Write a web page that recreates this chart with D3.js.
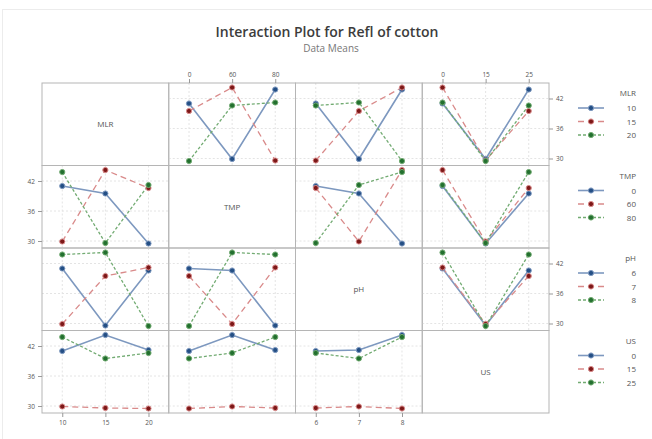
<!DOCTYPE html>
<html>
<head>
<meta charset="utf-8">
<script src="https://cdn.jsdelivr.net/npm/d3@7"></script>
<style>
  body { margin: 0; background: #fff; }
  text { font-family: "Open Sans", "Noto Sans", sans-serif; }
</style>
</head>
<body>
<svg id="chart" width="652" height="439"></svg>
<script>
// factors and their levels (order = panel order)
let factors = ["MLR", "TMP", "pH", "US"];
let levels = {
  MLR: ["10", "15", "20"],
  TMP: ["0", "60", "80"],
  pH: ["6", "7", "8"],
  US: ["0", "15", "25"]
};
let yTicks = [30, 36, 42];

// data means: rows = level of the line factor, cols = level of the x factor
let mlrByTmp = [[41.0, 29.9, 43.8], [39.5, 44.2, 29.6], [29.5, 40.6, 41.2]];
let mlrByPh  = [[41.0, 29.9, 43.8], [29.6, 39.5, 44.2], [40.6, 41.2, 29.5]];
let mlrByUs  = [[41.0, 29.9, 43.8], [44.2, 29.6, 39.5], [41.2, 29.5, 40.6]];
let tmpByMlr = [[41.0, 39.5, 29.5], [29.9, 44.2, 40.6], [43.8, 29.6, 41.2]];
let tmpByPh  = [[41.0, 39.5, 29.5], [40.6, 29.9, 44.2], [29.6, 41.2, 43.8]];
let tmpByUs  = [[41.0, 29.5, 39.5], [44.2, 29.9, 40.6], [41.2, 29.6, 43.8]];
let phByMlr  = [[41.0, 29.6, 40.6], [29.9, 39.5, 41.2], [43.8, 44.2, 29.5]];
let phByTmp  = [[41.0, 40.6, 29.6], [39.5, 29.9, 41.2], [29.5, 44.2, 43.8]];
let phByUs   = [[41.0, 29.6, 40.6], [41.2, 29.9, 39.5], [44.2, 29.5, 43.8]];
let usByMlr  = [[41.0, 44.2, 41.2], [29.9, 29.6, 29.5], [43.8, 39.5, 40.6]];
let usByTmp  = [[41.0, 44.2, 41.2], [29.5, 29.9, 29.6], [39.5, 40.6, 43.8]];
let usByPh   = [[41.0, 41.2, 44.2], [29.6, 29.9, 29.5], [40.6, 39.5, 43.8]];

let panels = [
  [null, mlrByTmp, mlrByPh, mlrByUs],
  [tmpByMlr, null, tmpByPh, tmpByUs],
  [phByMlr, phByTmp, null, phByUs],
  [usByMlr, usByTmp, usByPh, null]
];

let svg = d3.select("#chart");

let lineColors = ["#7d98bf", "#d98a8a", "#72ab72"];
let markColors = ["#244f85", "#7d1818", "#23702f"];
let dashes = [null, "6,4", "3,2"];
let textColor = "#555";

let gridLeft = 42, gridRight = 549, gridTop = 83, gridBottom = 413;
let panelW = (gridRight - gridLeft) / 4;
let panelH = (gridBottom - gridTop) / 4;

let y = d3.scaleLinear().domain([28.6, 45.1]).range([panelH, 0]);

// faint frame round the whole graph
svg.append("rect")
  .attr("x", 2.5).attr("y", 9.5)
  .attr("width", 660).attr("height", 440)
  .style("fill", "none")
  .style("stroke", "#ececec");

svg.append("text")
  .attr("x", 327).attr("y", 37)
  .text("Interaction Plot for Refl of cotton")
  .style("text-anchor", "middle")
  .style("font-size", 14)
  .style("font-weight", 600)
  .style("fill", "#3c3c3c");
svg.append("text")
  .attr("x", 331).attr("y", 52)
  .text("Data Means")
  .style("text-anchor", "middle")
  .style("font-size", 10)
  .style("fill", "#777");

for (let r = 0; r < 4; r++) {
  for (let c = 0; c < 4; c++) {
    let g = svg.append("g")
      .attr("transform", "translate(" + (gridLeft + c * panelW) + "," + (gridTop + r * panelH) + ")");
    let x = d3.scalePoint().domain(levels[factors[c]]).range([0, panelW]).padding(0.47);

    if (r == c) {
      g.append("text")
        .attr("x", panelW / 2).attr("y", panelH / 2 + 3)
        .text(factors[r])
        .style("text-anchor", "middle")
        .style("font-size", 8)
        .style("fill", "#555");
    } else {
      // grid
      g.selectAll(".vgrid")
        .data(x.domain())
        .enter().append("line")
        .attr("x1", (d) => x(d)).attr("x2", (d) => x(d))
        .attr("y1", 0).attr("y2", panelH)
        .style("stroke", "#e4e4e4")
        .style("stroke-dasharray", "2,2");
      g.selectAll(".hgrid")
        .data(yTicks)
        .enter().append("line")
        .attr("x1", 0).attr("x2", panelW)
        .attr("y1", (d) => y(d)).attr("y2", (d) => y(d))
        .style("stroke", "#e4e4e4")
        .style("stroke-dasharray", "2,2");

      let data = panels[r][c];
      let line = d3.line()
        .x((d, i) => x(levels[factors[c]][i]))
        .y((d) => y(d));
      data.forEach((series, k) => {
        g.append("path")
          .attr("d", line(series))
          .style("fill", "none")
          .style("stroke", lineColors[k])
          .style("stroke-width", k == 0 ? 1.6 : 1.3)
          .style("stroke-dasharray", dashes[k]);
      });
      data.forEach((series, k) => {
        g.selectAll(".pt" + k)
          .data(series)
          .enter().append("circle")
          .attr("cx", (d, i) => x(levels[factors[c]][i]))
          .attr("cy", (d) => y(d))
          .attr("r", 2.6)
          .style("fill", markColors[k])
          .style("stroke", lineColors[k])
          .style("stroke-width", 1);
      });
    }

    g.append("rect")
      .attr("width", panelW).attr("height", panelH)
      .style("fill", "none")
      .style("stroke", "#b5b5b5");

    // x axes: top for cols 2,4 ; bottom for cols 1,3
    if (r == 0 && c % 2 == 1) {
      let ax = g.append("g").call(d3.axisTop(x).tickSize(4).tickPadding(2));
      styleAxis(ax);
    }
    if (r == 3 && c % 2 == 0) {
      let ax = g.append("g").attr("transform", "translate(0," + panelH + ")")
        .call(d3.axisBottom(x).tickSize(4).tickPadding(3));
      styleAxis(ax);
    }
    // y axes: right for rows 1,3 ; left for rows 2,4
    if (c == 3 && r % 2 == 0) {
      let ax = g.append("g").attr("transform", "translate(" + panelW + ",0)")
        .call(d3.axisRight(y).tickValues(yTicks).tickSize(4).tickPadding(3));
      styleAxis(ax);
    }
    if (c == 0 && r % 2 == 1) {
      let ax = g.append("g")
        .call(d3.axisLeft(y).tickValues(yTicks).tickSize(4).tickPadding(3));
      styleAxis(ax);
    }
  }

  // legend for this row
  let lg = svg.append("g").attr("transform", "translate(0," + (gridTop + r * panelH) + ")");
  lg.append("text")
    .attr("x", 636).attr("y", 13)
    .text(factors[r])
    .style("text-anchor", "end")
    .style("font-size", 8)
    .style("fill", textColor);
  levels[factors[r]].forEach((lv, k) => {
    let ly = 25 + k * 13.5;
    lg.append("line")
      .attr("x1", 578).attr("x2", 604)
      .attr("y1", ly).attr("y2", ly)
      .style("stroke", lineColors[k])
      .style("stroke-width", k == 0 ? 1.6 : 1.3)
      .style("stroke-dasharray", dashes[k]);
    lg.append("circle")
      .attr("cx", 591).attr("cy", ly).attr("r", 2.6)
      .style("fill", markColors[k])
      .style("stroke", lineColors[k]);
    lg.append("text")
      .attr("x", 636).attr("y", ly + 3)
      .text(lv)
      .style("text-anchor", "end")
      .style("font-size", 8)
      .style("fill", textColor);
  });
}

function styleAxis(ax) {
  ax.select(".domain").remove();
  ax.selectAll("line").style("stroke", "#999");
  ax.selectAll("text")
    .style("font-size", 6.5)
    .style("fill", "#555")
    .style("font-family", "Open Sans, sans-serif");
}
</script>
</body>
</html>
